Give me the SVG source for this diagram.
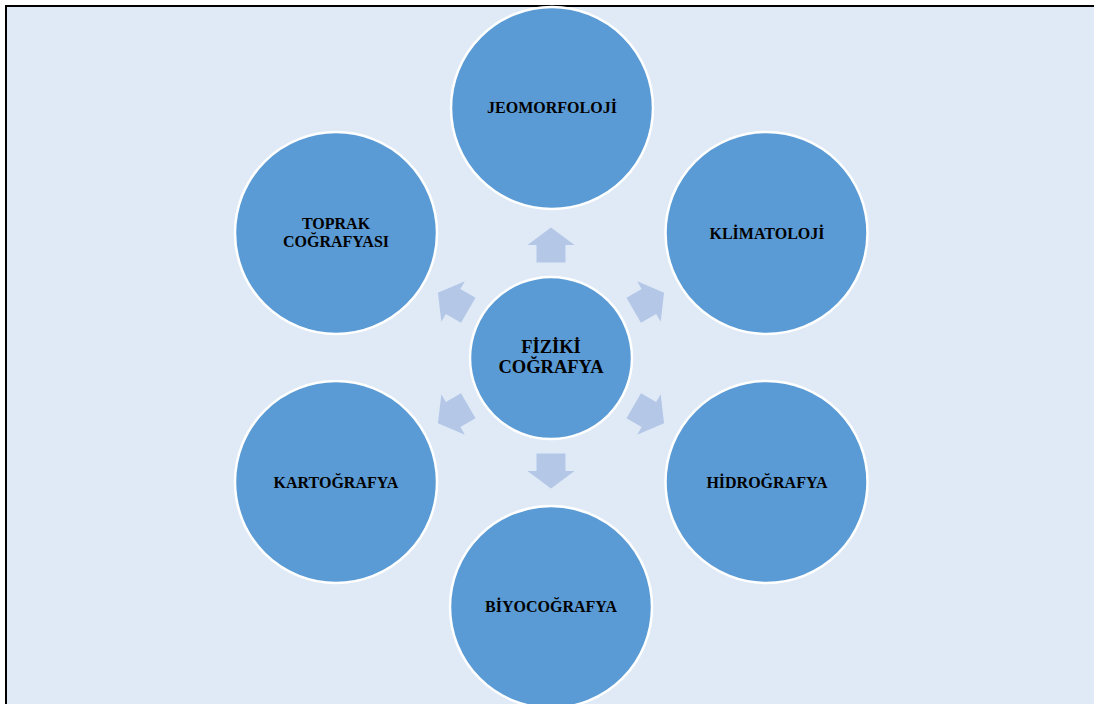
<svg xmlns="http://www.w3.org/2000/svg" width="1094" height="704" viewBox="0 0 1094 704">
<defs>
<style>
.node{fill:#5B9BD5;stroke:#FFFFFF;stroke-width:2.5}
.lbl{font-family:"Liberation Serif","Times New Roman",serif;font-weight:bold;font-size:16px;fill:#000;text-anchor:middle}
.clbl{font-family:"Liberation Serif","Times New Roman",serif;font-weight:bold;font-size:18.5px;fill:#000;text-anchor:middle}
.arr{fill:#B4C7E7}
</style>
<path id="arrow" d="M-17.5,-14.5 L0,-14.5 L0,-23.5 L17.5,0 L0,23.5 L0,14.5 L-17.5,14.5 Z"/>
</defs>
<rect x="0" y="0" width="1094" height="704" fill="#FFFFFF"/>
<rect x="6" y="6" width="1100" height="710" fill="#DFEAF6" stroke="#000" stroke-width="2"/>
<g id="connectors">
<use href="#arrow" class="arr" transform="translate(551,245) rotate(-90)"/>
<use href="#arrow" class="arr" transform="translate(648.9,301.5) rotate(-30)"/>
<use href="#arrow" class="arr" transform="translate(648.9,414.5) rotate(30)"/>
<use href="#arrow" class="arr" transform="translate(551,471) rotate(90)"/>
<use href="#arrow" class="arr" transform="translate(453.1,414.5) rotate(150)"/>
<use href="#arrow" class="arr" transform="translate(453.1,301.5) rotate(210)"/>
</g>
<g id="center">
<circle class="node" cx="551" cy="358" r="81"/>
<text class="clbl" x="551" y="353">FİZİKİ</text>
<text class="clbl" x="551" y="373">COĞRAFYA</text>
</g>
<g id="jeomorfoloji">
<circle class="node" cx="552" cy="108" r="101"/>
<text class="lbl" x="552" y="113">JEOMORFOLOJİ</text>
</g>
<g id="klimatoloji">
<circle class="node" cx="766.5" cy="233" r="101"/>
<text class="lbl" x="767" y="239">KLİMATOLOJİ</text>
</g>
<g id="hidrografya">
<circle class="node" cx="766.5" cy="482" r="101"/>
<text class="lbl" x="767" y="488">HİDROĞRAFYA</text>
</g>
<g id="biyocografya">
<circle class="node" cx="551" cy="607" r="101"/>
<text class="lbl" x="551" y="612">BİYOCOĞRAFYA</text>
</g>
<g id="kartografya">
<circle class="node" cx="336" cy="482" r="101"/>
<text class="lbl" x="336" y="488">KARTOĞRAFYA</text>
</g>
<g id="toprak">
<circle class="node" cx="336" cy="233" r="101"/>
<text class="lbl" x="336" y="229">TOPRAK</text>
<text class="lbl" x="336" y="247">COĞRAFYASI</text>
</g>
</svg>
